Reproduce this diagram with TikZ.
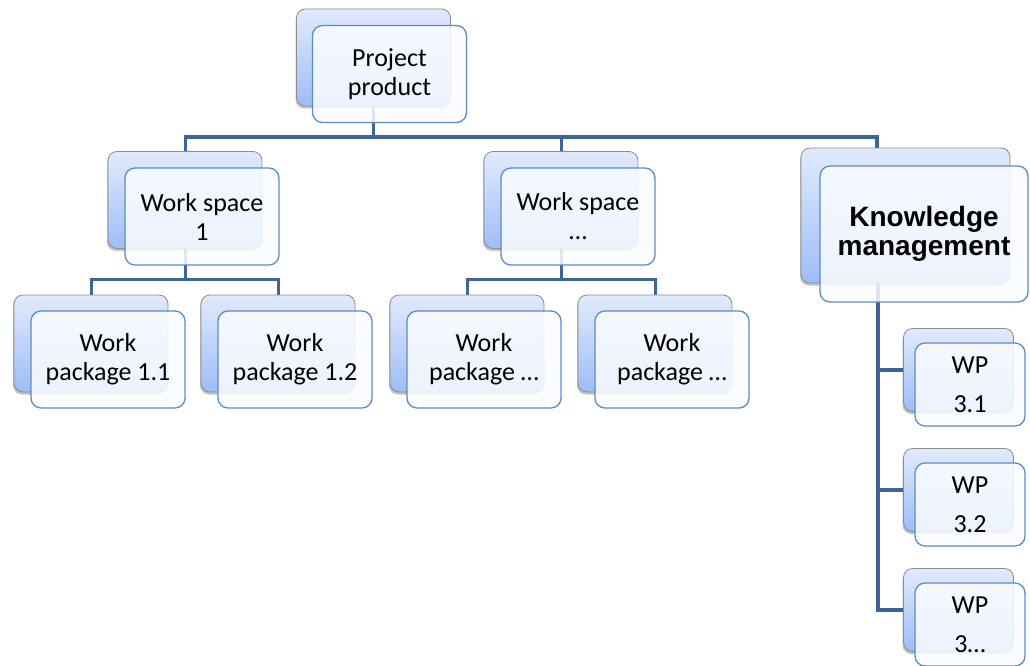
\documentclass[tikz,border=0pt]{standalone}
\usepackage{fontspec}
\setmainfont{Carlito}
\newfontfamily\headfont{Liberation Sans}
\usetikzlibrary{shadows}
\definecolor{linec}{RGB}{62,101,152}
\definecolor{backtop}{RGB}{225,234,251}
\definecolor{backbot}{RGB}{158,189,247}
\definecolor{backedge}{RGB}{140,140,140}
\definecolor{frontedge}{RGB}{92,139,202}
\definecolor{frontfill}{RGB}{250,252,255}
\pgfdeclarelayer{wires}
\pgfsetlayers{wires,main}
\tikzset{
  backbox/.style={rectangle, rounded corners=9pt, draw=backedge, line width=0.8pt,
    top color=backtop, bottom color=backbot, inner sep=0pt,
    drop shadow={shadow xshift=-1pt, shadow yshift=-2.5pt, opacity=0.35, fill=black!70}},
  frontbox/.style={rectangle, rounded corners=10pt, draw=frontedge, line width=1.3pt,
    fill=frontfill, fill opacity=0.86, text opacity=1, inner sep=0pt, align=center,
    font=\fontsize{26}{29}\selectfont},
  wpbox/.style={frontbox, font=\fontsize{26}{39}\selectfont},
  wide/.style={minimum width=154pt, minimum height=97pt},
  small/.style={minimum width=110pt, minimum height=83pt},
  conn/.style={draw=linec, line width=3pt, line join=miter},
  connthick/.style={draw=linec, line width=4.3pt, line join=miter}
}
\begin{document}
\begin{tikzpicture}[x=1pt, y=-1pt]
\useasboundingbox (0,0) rectangle (1030,666);

% top level
\node[backbox, wide] (pp-b) at (373.5,57.5) {};
\node[frontbox, wide] (pp) at (389.5,74) {Project\\product};

% work spaces
\node[backbox, wide] (ws1-b) at (185,200) {};
\node[frontbox, wide] (ws1) at (202,216.5) {Work space\\1};
\node[backbox, wide] (wsx-b) at (561,200) {};
\node[frontbox, wide] (wsx) at (578,216.5) {Work space\\\dots};
\node[backbox, minimum width=209pt, minimum height=135pt] (km-b) at (905.5,215.5) {};
\node[frontbox, minimum width=208pt, minimum height=136pt,
      font=\headfont\bfseries\fontsize{28}{29}\selectfont] (km) at (924,234) {Knowledge\\management};

% work packages
\node[backbox, wide] (wp11-b) at (91,343.5) {};
\node[frontbox, wide] (wp11) at (108,359.5) {Work\\package 1.1};
\node[backbox, wide] (wp12-b) at (278,343.5) {};
\node[frontbox, wide] (wp12) at (295,359.5) {Work\\package 1.2};
\node[backbox, wide] (wpa-b) at (467,343.5) {};
\node[frontbox, wide] (wpa) at (484,359.5) {Work\\package \dots};
\node[backbox, wide] (wpb-b) at (655,343.5) {};
\node[frontbox, wide] (wpb) at (672,359.5) {Work\\package \dots};

% knowledge management packages
\node[backbox, small] (wp31-b) at (958.5,370) {};
\node[wpbox, small] (wp31) at (970,384.5) {WP\\3.1};
\node[backbox, small] (wp32-b) at (958.5,490) {};
\node[wpbox, small] (wp32) at (970,504.5) {WP\\3.2};
\node[backbox, small] (wp3x-b) at (958.5,610) {};
\node[wpbox, small] (wp3x) at (970,624.5) {WP\\3\dots};

% connector guide points
\coordinate (bus) at (0,137);
\coordinate (kmx) at (877,0);
\coordinate (kmt) at (878,0);
\coordinate (sub1) at (0,279);

\begin{pgfonlayer}{wires}
  \draw[conn] (pp-b.south) -- (pp-b.south |- bus);
  \draw[conn] (ws1-b.north) -- (ws1-b.north |- bus) -- (wsx-b.north |- bus) -- (wsx-b.north);
  \draw[connthick] (wsx-b.north |- bus) -- (kmx |- bus) -- (kmx |- km-b.north);

  \draw[conn] (ws1-b.south) -- (ws1-b.south |- sub1);
  \draw[conn] (wp11-b.north) -- (wp11-b.north |- sub1) -- (wp12-b.north |- sub1) -- (wp12-b.north);
  \draw[conn] (wsx-b.south) -- (wsx-b.south |- sub1);
  \draw[conn] (wpa-b.north) -- (wpa-b.north |- sub1) -- (wpb-b.north |- sub1) -- (wpb-b.north);

  \draw[connthick] (kmt |- km-b.south) -- (kmt |- wp3x-b.west) -- (wp3x-b.west);
  \draw[connthick] (kmt |- wp31-b.west) -- (wp31-b.west);
  \draw[connthick] (kmt |- wp32-b.west) -- (wp32-b.west);
\end{pgfonlayer}
\end{tikzpicture}
\end{document}
